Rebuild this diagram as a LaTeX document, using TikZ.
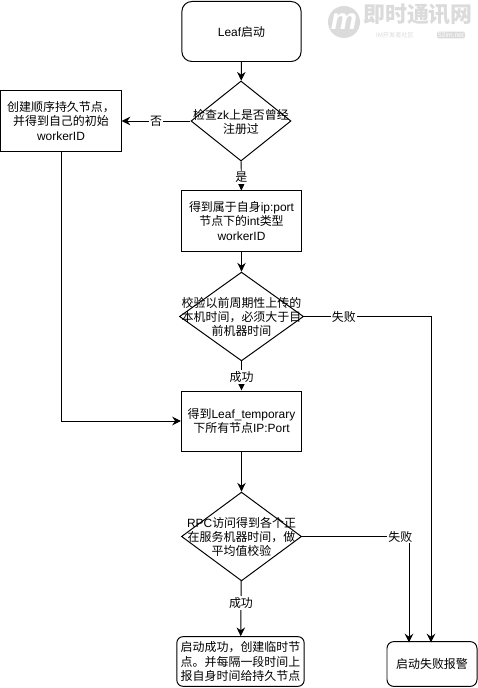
\documentclass[tikz,border=0pt]{standalone}
\usepackage{fontspec}
\setmainfont{Liberation Sans}
\newfontfamily\cjk{Noto Sans CJK SC}
\usetikzlibrary{arrows.meta,shapes.geometric}
\definecolor{markgray}{gray}{0.86}
\tikzset{
  stepbox/.style={draw,align=center,inner sep=0pt},
  roundbox/.style={stepbox,rounded corners=#1},
  choice/.style={draw,diamond,inner sep=0pt,minimum width=#1},
  choicetext/.style={align=center,inner sep=0pt},
  flow/.style={->},
  answer/.style={fill=white,inner sep=1pt},
}
\begin{document}
\begin{tikzpicture}[x=0.025cm,y=-0.025cm,>={Stealth[length=6.2pt,width=6pt]},line width=0.7pt,font=\fontsize{8.5}{10}\selectfont]
\useasboundingbox (0,0) rectangle (478,688);
% watermark
\node[circle,fill=markgray,minimum size=0.8cm,inner sep=0pt,text=white,font=\fontsize{21}{21}\selectfont\bfseries\itshape] (logo) at (344,22) {m};
\node[inner sep=0pt,text=markgray,text height=12pt,text depth=1.5pt,font=\fontsize{15.6}{16}\selectfont\bfseries] (brand) at (418,15.5) {\cjk 即时通讯网};
\node[inner sep=0pt,text=markgray,text height=3.6pt,text depth=0.6pt,font=\fontsize{4.4}{5}\selectfont] (brandsub) at (395,35.5) {IM{\cjk 开发者社区}};
\node[fill=markgray,rounded corners=1pt,inner sep=0.7pt,text=white,text height=3.4pt,text depth=0pt,font=\fontsize{4.8}{5}\selectfont] (brandurl) at (451,35) {52im.net};
% steps
\node[roundbox=0.25cm,minimum width=2.98cm,minimum height=1.5cm] (start) at (241.5,31.5) {Leaf{\cjk 启动}};
\node[choice=2.5cm,minimum height=2cm] (zk) at (241,121) {};
\node[choicetext] (zktext) at (241,122) {{\cjk 检查}zk{\cjk 上是否曾经}\\{\cjk 注册过}};
\node[stepbox,minimum width=3cm,minimum height=1.5cm] (create) at (61,121) {{\cjk 创建顺序持久节点，}\\{\cjk 并得到自己的初始}\\workerID};
\node[stepbox,minimum width=2.98cm,minimum height=1.5cm] (owned) at (241.5,221) {{\cjk 得到属于自身}ip:port\\{\cjk 节点下的}int{\cjk 类型}\\workerID};
\node[choice=3.1cm,minimum height=2.22cm] (clock) at (241.5,316.5) {};
\node[choicetext] (clocktext) at (241.5,317) {{\cjk 校验以前周期性上传的}\\{\cjk 本机时间，必须大于目}\\{\cjk 前机器时间}};
\node[stepbox,minimum width=3cm,minimum height=1.5cm] (peers) at (241.5,421) {{\cjk 得到}Leaf\_temporary\\{\cjk 下所有节点}IP:Port};
\node[choice=3cm,minimum height=2.22cm] (rpc) at (241.5,536.5) {};
\node[choicetext] (rpctext) at (241.5,537) {RPC{\cjk 访问得到各个正}\\{\cjk 在服务机器时间，做}\\{\cjk 平均值校验}};
\node[roundbox=0.15cm,minimum width=3.18cm,minimum height=1.24cm] (okend) at (240.5,661.5) {{\cjk 启动成功，创建临时节}\\{\cjk 点。并每隔一段时间上}\\{\cjk 报自身时间给持久节点}};
\node[roundbox=0.17cm,minimum width=2.25cm,minimum height=1.12cm] (failend) at (432,664) {\cjk 启动失败报警};
\coordinate (failleft) at (409,642.5);
\coordinate (failright) at (431,642.5);
% connectors
\draw[flow] (start) -- (zk);
\draw[flow] (zk) -- node[answer]{\cjk 否} (create);
\draw[flow] (zk) -- node[answer,pos=0.55]{\cjk 是} (owned);
\draw[flow] (create) |- (peers);
\draw[flow] (owned) -- (clock);
\draw[flow] (clock) -- node[answer,pos=0.55]{\cjk 成功} (peers);
\draw[flow] (clock) -| node[answer,pos=0.157]{\cjk 失败} (failright);
\draw[flow] (peers) -- (rpc);
\draw[flow] (rpc) -- node[answer,pos=0.4]{\cjk 成功} (okend);
\draw[flow] (rpc) -| node[answer,pos=0.46]{\cjk 失败} (failleft);
\end{tikzpicture}
\end{document}
